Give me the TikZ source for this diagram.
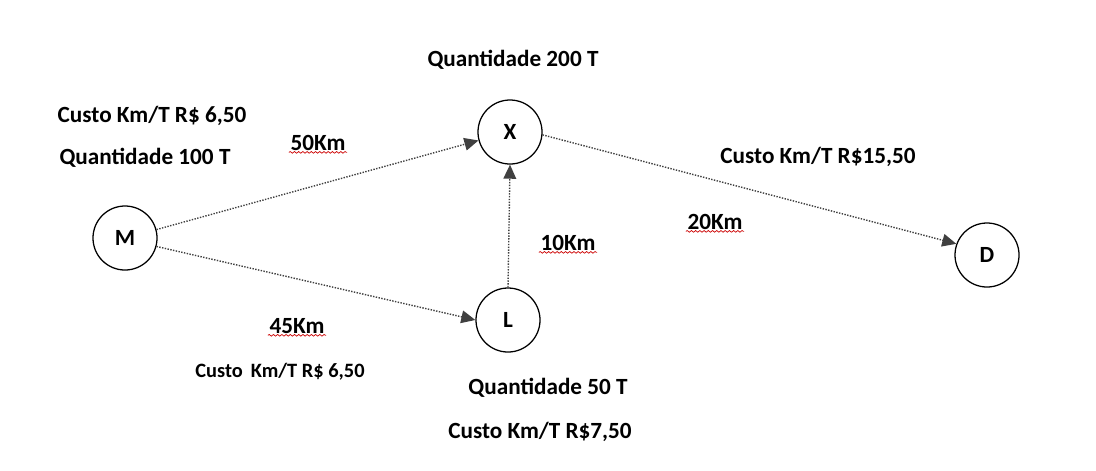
\documentclass[tikz,border=0pt]{standalone}
\usepackage{fontspec}
\setmainfont{Carlito}
\usetikzlibrary{arrows.meta,decorations.pathmorphing}
\begin{document}
\begin{tikzpicture}[x=0.025cm,y=-0.025cm,
  every node/.style={font=\fontsize{16.5}{19}\selectfont\bfseries},
  city/.style={circle,draw,line width=0.9pt,minimum size=1.6cm,inner sep=0pt},
  link/.style={draw=black!75,densely dotted,line width=1pt,-{Triangle[length=10pt,width=9pt]}},
  lbl/.style={inner sep=1pt},
  sq/.style={red!80!black,line width=0.5pt,decorate,decoration={snake,amplitude=0.6pt,segment length=3pt}}]
\useasboundingbox (0,0) rectangle (1096,470);
\node[city] (M) at (125,238) {M};
\node[city] (X) at (510,132) {X};
\node[city] (L) at (508,320) {L};
\node[city] (D) at (987,255) {D};
\draw[link] (M.15) -- (X.195);
\draw[link] (M.-15) -- (L.180);
\draw[link] (L.north) -- (X.south);
\draw[link] (X.-5) -- (D.160);
\node (t1) at (513,60) {Quantidade 200 T};
\node (t2) at (152,116) {Custo Km/T R\$ 6,50};
\node (t3) at (145,158) {Quantidade 100 T};
\node[lbl] (k1) at (318,143) {50Km};
\node (t4) at (818,157) {Custo Km/T R\$15,50};
\node[lbl] (k2) at (715,222) {20Km};
\node[lbl] (k3) at (568,243) {10Km};
\node[lbl] (k4) at (297,326) {45Km};
\node (t5) at (280,372) {\fontsize{14.5}{17}\selectfont Custo\, Km/T R\$ 6,50};
\node (t6) at (548,388) {Quantidade 50 T};
\node (t7) at (540,432) {Custo Km/T R\$7,50};
\foreach \k in {k1,k2,k3,k4} \draw[sq] (\k.south west) -- (\k.south east);
\end{tikzpicture}
\end{document}
